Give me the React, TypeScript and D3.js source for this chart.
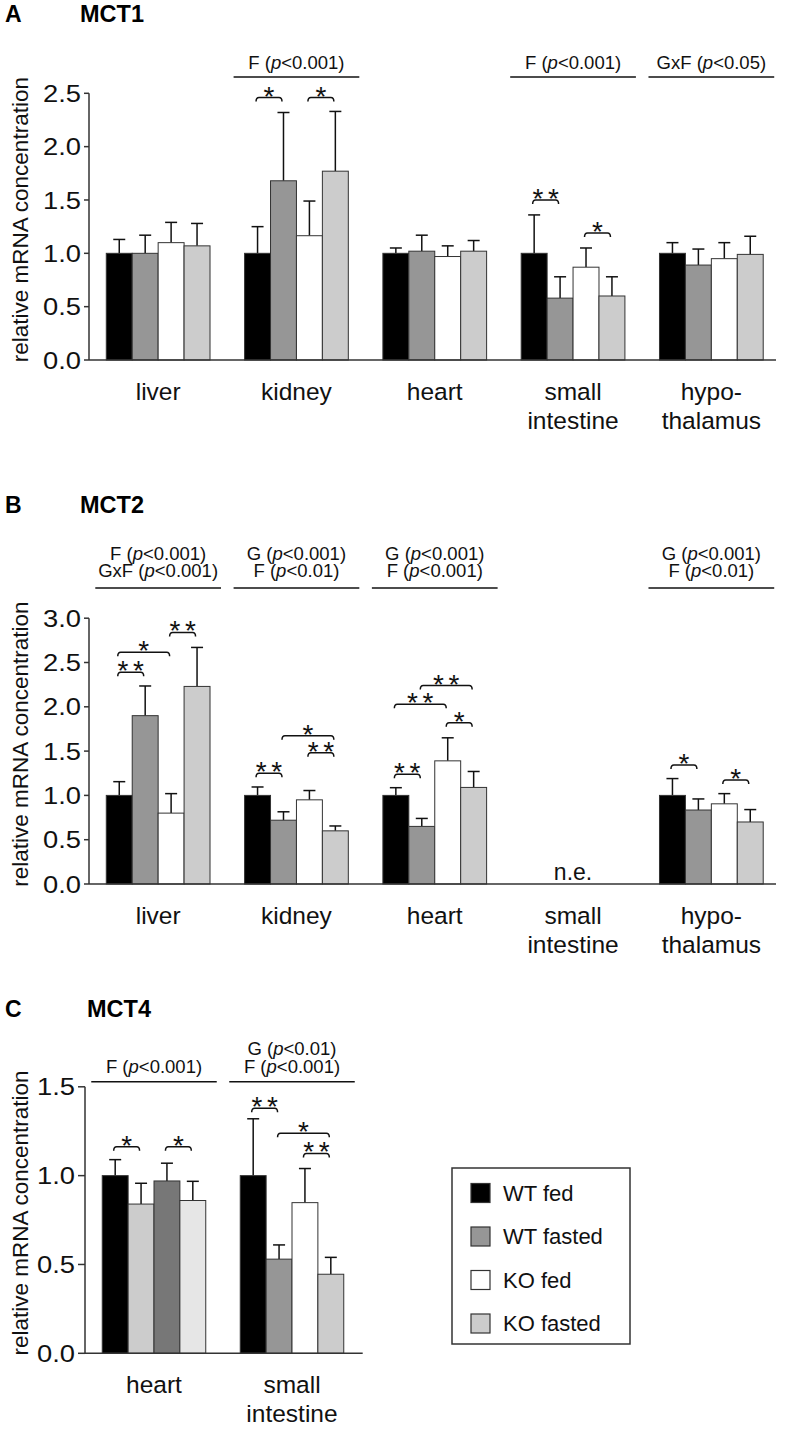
import * as d3 from 'd3';

const groups = ['WT fed', 'WT fasted', 'KO fed', 'KO fasted'];
const groupColors = ['#000000', '#969696', '#ffffff', '#cccccc'];
const mct4HeartColors = ['#000000', '#cccccc', '#777777', '#e6e6e6'];

const organsAll = [['liver'], ['kidney'], ['heart'], ['small', 'intestine'], ['hypo-', 'thalamus']];
const organsMct4 = [['heart'], ['small', 'intestine']];

const mct1Means = [
  [1.0, 1.0, 1.1, 1.07],
  [1.0, 1.68, 1.165, 1.77],
  [1.0, 1.02, 0.97, 1.02],
  [1.0, 0.58, 0.87, 0.6],
  [1.0, 0.89, 0.95, 0.99],
];
const mct1Sd = [
  [0.13, 0.17, 0.19, 0.21],
  [0.25, 0.64, 0.325, 0.56],
  [0.05, 0.15, 0.1, 0.1],
  [0.36, 0.2, 0.18, 0.18],
  [0.1, 0.15, 0.15, 0.17],
];

const mct2Means = [
  [1.0, 1.9, 0.8, 2.23],
  [1.0, 0.72, 0.95, 0.6],
  [1.0, 0.65, 1.39, 1.09],
  null,
  [1.0, 0.835, 0.905, 0.7],
];
const mct2Sd = [
  [0.155, 0.335, 0.22, 0.44],
  [0.095, 0.095, 0.105, 0.055],
  [0.087, 0.09, 0.26, 0.18],
  null,
  [0.19, 0.125, 0.115, 0.14],
];

const mct4Means = [
  [1.0, 0.84, 0.97, 0.86],
  [1.0, 0.53, 0.848, 0.445],
];
const mct4Sd = [
  [0.09, 0.117, 0.1, 0.108],
  [0.32, 0.08, 0.192, 0.095],
];

const mct1Stats = [null, ['F (p<0.001)'], null, ['F (p<0.001)'], ['GxF (p<0.05)']];
const mct2Stats = [
  ['F (p<0.001)', 'GxF (p<0.001)'],
  ['G (p<0.001)', 'F (p<0.01)'],
  ['G (p<0.001)', 'F (p<0.001)'],
  null,
  ['G (p<0.001)', 'F (p<0.01)'],
];
const mct4Stats = [['F (p<0.001)'], ['G (p<0.01)', 'F (p<0.001)']];

// [organ, bar a, bar b, level, number of stars]
const mct1Brackets = [[1, 0, 1, 2.46, 1], [1, 2, 3, 2.46, 1], [3, 0, 1, 1.5, 2], [3, 2, 3, 1.19, 1]];
const mct2Brackets = [
  [0, 0, 1, 2.39, 2], [0, 0, 2, 2.615, 1], [0, 2, 3, 2.84, 2],
  [1, 0, 1, 1.25, 2], [1, 1, 3, 1.674, 1], [1, 2, 3, 1.482, 2],
  [2, 0, 1, 1.24, 2], [2, 0, 2, 2.03, 2], [2, 1, 3, 2.24, 2], [2, 2, 3, 1.82, 1],
  [4, 0, 1, 1.343, 1], [4, 2, 3, 1.174, 1],
];
const mct4Brackets = [[0, 0, 1, 1.163, 1], [0, 2, 3, 1.163, 1], [1, 0, 1, 1.379, 2], [1, 1, 3, 1.238, 1], [1, 2, 3, 1.125, 2]];

const mct1Ticks = [0, 0.5, 1.0, 1.5, 2.0, 2.5];
const mct2Ticks = [0, 0.5, 1.0, 1.5, 2.0, 2.5, 3.0];
const mct4Ticks = [0, 0.5, 1.0, 1.5];

const FONT = '"Liberation Sans", Arial, sans-serif';

const StatText = (props: any) => {
  const [a, b] = props.text.split('(p');
  return (
    <text x={props.x} y={props.y} textAnchor="middle" fontSize={18.5} fontFamily={FONT} fill="#111">
      {a}(<tspan fontStyle="italic">p</tspan>{b}
    </text>
  );
};

const Panel = (props: any) => {
  const c = props.cfg;
  const n = c.organs.length;
  const x0 = d3.scaleBand<number>().domain(d3.range(n)).range([c.axisX, c.bandRight]).paddingInner(0.25).paddingOuter(0.125);
  const x1 = d3.scaleBand<number>().domain(d3.range(groups.length)).range([0, x0.bandwidth()]);
  const y = d3.scaleLinear().domain([0, c.yMax]).range([c.bottom, c.top]);
  const cx = (o: number, g: number) => (x0(o) as number) + (x1(g) as number) + x1.bandwidth() / 2;

  return (
    <g>
      <text x={5} y={c.titleY} fontSize={23} fontWeight="bold" fontFamily={FONT}>{c.letter}</text>
      <text x={c.titleX} y={c.titleY} fontSize={23.5} fontWeight="bold" fontFamily={FONT}>{c.title}</text>
      <text transform={`translate(28,${(c.top + c.bottom) / 2 - 7}) rotate(-90)`} textAnchor="middle" fontSize={22.5} fontFamily={FONT} fill="#111">
        relative mRNA concentration
      </text>

      {c.means.map((row: any, o: number) => row && row.map((v: number, g: number) => {
        const colors = c.colorOverride && c.colorOverride[o] ? c.colorOverride[o] : groupColors;
        const top = y(v + c.sd[o][g]);
        const xc = cx(o, g);
        return (
          <g key={`${o}-${g}`}>
            <line x1={xc} x2={xc} y1={y(v)} y2={top} stroke="#111" strokeWidth={1.5} />
            <line x1={xc - 6} x2={xc + 6} y1={top} y2={top} stroke="#111" strokeWidth={1.5} />
            <rect x={(x0(o) as number) + (x1(g) as number)} y={y(v)} width={x1.bandwidth()} height={y(0) - y(v)}
              fill={colors[g]} stroke="#333" strokeWidth={1} />
          </g>
        );
      }))}

      {c.missing.map((o: number) => (
        <text key={`ne${o}`} x={(x0(o) as number) + x0.bandwidth() / 2} y={c.bottom - 4} textAnchor="middle" fontSize={23} fontFamily={FONT} fill="#111">n.e.</text>
      ))}

      <line x1={c.axisX} x2={c.axisX} y1={c.top} y2={c.bottom} stroke="#333" strokeWidth={1.5} />
      <line x1={c.axisX} x2={c.axisRight} y1={c.bottom} y2={c.bottom} stroke="#333" strokeWidth={1.5} />
      {c.ticks.map((t: number) => (
        <g key={t}>
          <line x1={c.axisX - c.tickLen} x2={c.axisX} y1={y(t)} y2={y(t)} stroke="#333" strokeWidth={1.5} />
          <text x={c.axisX - c.tickLen - 3} y={y(t)} dy="0.36em" textAnchor="end" fontSize={24} fontFamily={FONT} fill="#111"
            textLength={38} lengthAdjust="spacingAndGlyphs">
            {d3.format('.1f')(t)}
          </text>
        </g>
      ))}

      {c.organs.map((lines: string[], o: number) => (
        <text key={`lab${o}`} x={(x0(o) as number) + x0.bandwidth() / 2} y={c.bottom + 40} textAnchor="middle" fontSize={24.5} fontFamily={FONT} fill="#111">
          {lines.map((l, i) => <tspan key={i} x={(x0(o) as number) + x0.bandwidth() / 2} dy={i === 0 ? 0 : 29}>{l}</tspan>)}
        </text>
      ))}

      {c.stats.map((lines: string[] | null, o: number) => lines && (
        <g key={`st${o}`}>
          <line x1={(x0(o) as number) - 11} x2={(x0(o) as number) + x0.bandwidth() + 11} y1={c.statLineY} y2={c.statLineY} stroke="#111" strokeWidth={1.5} />
          {lines.map((l, i) => (
            <StatText key={i} text={l} x={(x0(o) as number) + x0.bandwidth() / 2} y={c.statLineY - c.statGap - (lines.length - 1 - i) * 17.5} />
          ))}
        </g>
      ))}

      {c.brackets.map((b: number[], i: number) => {
        const [o, ga, gb, lev, stars] = b;
        const xa = cx(o, ga) - 1.5;
        const xb = cx(o, gb) - 1.5;
        const yy = y(lev);
        const mid = (xa + xb) / 2;
        return (
          <g key={`br${i}`}>
            <path d={`M${xa},${yy + 4} Q${xa},${yy} ${xa + 3},${yy} L${xb - 3},${yy} Q${xb},${yy} ${xb},${yy + 4}`} fill="none" stroke="#111" strokeWidth={1.5} />
            {d3.range(stars).map((s) => (
              <text key={s} x={mid + (s - (stars - 1) / 2) * 15.5} y={yy + 8} textAnchor="middle" fontSize={28} fontFamily={FONT} fill="#111">*</text>
            ))}
          </g>
        );
      })}
    </g>
  );
};

const panels = [
  {
    letter: 'A', title: 'MCT1', titleX: 80, titleY: 22,
    organs: organsAll, means: mct1Means, sd: mct1Sd, stats: mct1Stats, brackets: mct1Brackets, missing: [],
    ticks: mct1Ticks, yMax: 2.5, top: 93.3, bottom: 360, axisX: 89, axisRight: 776, bandRight: 780.5, tickLen: 5,
    statLineY: 77, statGap: 8,
  },
  {
    letter: 'B', title: 'MCT2', titleX: 80, titleY: 513,
    organs: organsAll, means: mct2Means, sd: mct2Sd, stats: mct2Stats, brackets: mct2Brackets, missing: [3],
    ticks: mct2Ticks, yMax: 3, top: 618.2, bottom: 884, axisX: 89, axisRight: 776, bandRight: 780.5, tickLen: 5,
    statLineY: 588, statGap: 11,
  },
  {
    letter: 'C', title: 'MCT4', titleX: 87, titleY: 1017,
    organs: organsMct4, means: mct4Means, sd: mct4Sd, stats: mct4Stats, brackets: mct4Brackets, missing: [],
    colorOverride: [mct4HeartColors, null],
    ticks: mct4Ticks, yMax: 1.5, top: 1086.8, bottom: 1353.3, axisX: 85, axisRight: 362.7, bandRight: 361, tickLen: 7,
    statLineY: 1081.7, statGap: 9,
  },
];

const Legend = () => {
  const ly = d3.scaleLinear().domain([0, 3]).range([1193, 1323.5]);
  return (
    <g>
      <rect x={452} y={1168} width={178} height={176} fill="#fff" stroke="#333" strokeWidth={1.5} />
      {groups.map((g, i) => (
        <g key={g}>
          <rect x={471} y={ly(i) - 9.5} width={19} height={19} fill={groupColors[i]} stroke="#333" strokeWidth={1.2} />
          <text x={503} y={ly(i)} dy="0.36em" fontSize={22} fontFamily={FONT} fill="#111">{g}</text>
        </g>
      ))}
    </g>
  );
};

export default function App() {
  return (
    <svg width={788} height={1429} style={{ position: 'absolute', left: 0, top: 0, background: '#fff' }}>
      {panels.map((p) => <Panel key={p.letter} cfg={p} />)}
      <Legend />
    </svg>
  );
}
